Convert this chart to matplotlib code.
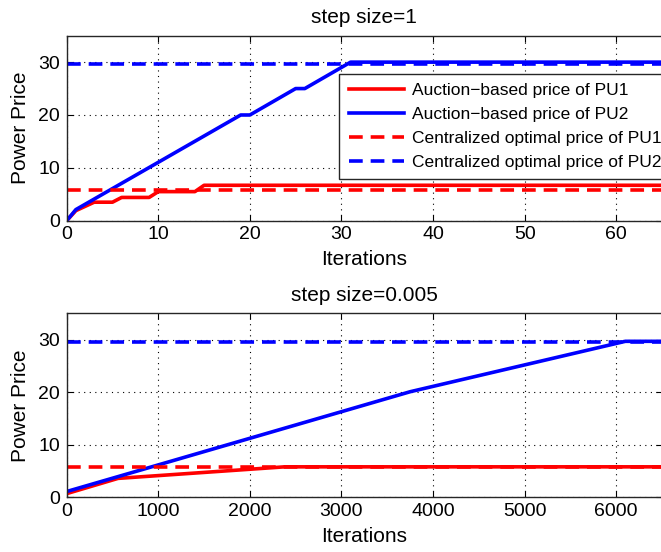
import matplotlib
matplotlib.use('Agg')
import matplotlib.pyplot as plt

plt.rcParams['font.family'] = ['Liberation Sans', 'DejaVu Sans']

# step size = 1
iter1 = [0, 1, 3, 5, 6, 9, 10, 14, 15, 65]
pu1_auction1 = [0, 1.9, 3.5, 3.5, 4.4, 4.4, 5.5, 5.5, 6.7, 6.7]
iter1_pu2 = [0, 1, 19, 20, 25, 26, 31, 65]
pu2_auction1 = [0, 2.1, 20, 20, 25, 25, 30, 30]

# step size = 0.005
iter2_pu1 = [0, 560, 2380, 6500]
pu1_auction2 = [0.7, 3.6, 5.8, 5.8]
iter2_pu2 = [0, 3750, 6100, 6500]
pu2_auction2 = [1.1, 20.1, 29.7, 29.7]

opt_pu1 = 5.8
opt_pu2 = 29.6

labels = ['Auction\u2212based price of PU1', 'Auction\u2212based price of PU2',
          'Centralized optimal price of PU1', 'Centralized optimal price of PU2']


def style_axes(ax, xmax, xticks, title):
  ax.set_xlim(0, xmax)
  ax.set_ylim(0, 35)
  ax.set_xticks(xticks)
  ax.set_yticks([0, 10, 20, 30])
  ax.grid(True, linestyle=(0, (1, 4)), color='k', linewidth=0.8)
  ax.tick_params(direction='in', top=True, right=True, labelsize=14,
                 length=4, width=0.8)
  ax.tick_params(axis='x', pad=4)
  ax.tick_params(axis='y', pad=5)
  for sp in ax.spines.values():
    sp.set_color('#262626')
    sp.set_linewidth(1.0)
  ax.set_title(title, fontsize=15, pad=9)
  ax.set_xlabel('Iterations', fontsize=15, labelpad=5)
  ax.set_ylabel('Power Price', fontsize=15, labelpad=6)


fig = plt.figure(figsize=(6.61, 5.52), dpi=100)
ax1 = fig.add_axes([0.1009, 0.6002, 0.9006, 0.3351])
ax2 = fig.add_axes([0.1009, 0.0991, 0.9006, 0.333])

lw = 2.6
dash = (0, (3.8, 2.2))

### Top plot
h1, = ax1.plot(iter1, pu1_auction1, color='r', linewidth=lw)
h2, = ax1.plot(iter1_pu2, pu2_auction1, color='b', linewidth=lw)
h3, = ax1.plot([0, 65], [opt_pu1, opt_pu1], color='r', linewidth=lw, linestyle=dash)
h4, = ax1.plot([0, 65], [opt_pu2, opt_pu2], color='b', linewidth=lw, linestyle=dash)
style_axes(ax1, 65, range(0, 61, 10), 'step size=1')
leg = ax1.legend([h1, h2, h3, h4], labels, loc='upper left',
                 bbox_to_anchor=(0.458, 0.795), fontsize=12.5, handlelength=3.2,
                 handletextpad=0.45, borderpad=0.55, labelspacing=0.5,
                 fancybox=False, framealpha=1, borderaxespad=0)
leg.get_frame().set_edgecolor('#262626')
leg.get_frame().set_linewidth(1.0)

### Bottom plot
ax2.plot(iter2_pu1, pu1_auction2, color='r', linewidth=lw)
ax2.plot(iter2_pu2, pu2_auction2, color='b', linewidth=lw)
ax2.plot([0, 6500], [opt_pu1, opt_pu1], color='r', linewidth=lw, linestyle=dash)
ax2.plot([0, 6500], [opt_pu2, opt_pu2], color='b', linewidth=lw, linestyle=dash)
style_axes(ax2, 6500, range(0, 6001, 1000), 'step size=0.005')

plt.savefig('out.png', dpi=100)
